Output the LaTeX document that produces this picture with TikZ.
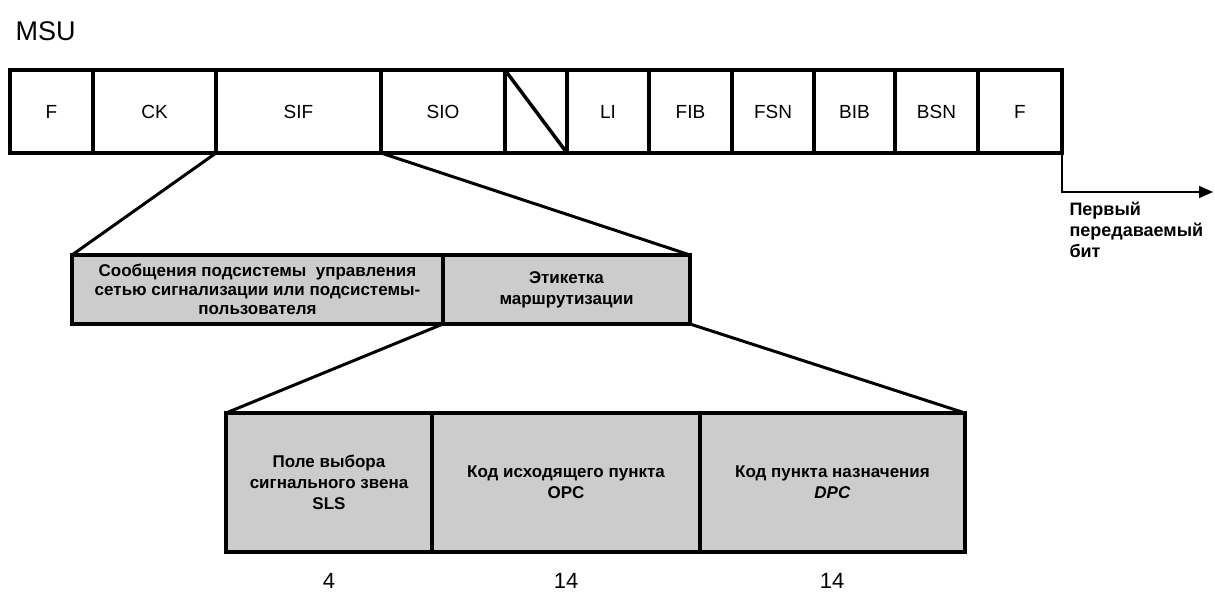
\documentclass[tikz,border=0pt]{standalone}
\usepackage{fontspec}
\setmainfont{Liberation Sans}
\usetikzlibrary{arrows.meta}
\tikzset{
  cell/.style={draw, line width=3.5pt, inner sep=0pt, outer sep=0pt, font=\fontsize{19}{22}\selectfont, anchor=north west},
  graycell/.style={cell, fill=black!20, align=center},
  link/.style={line width=3pt},
  num/.style={font=\fontsize{22}{24}\selectfont},
}
\begin{document}
\begin{tikzpicture}[x=1pt,y=-1pt]
\useasboundingbox (0,0) rectangle (1215,601);
\node[font=\fontsize{27}{30}\selectfont, anchor=west] (msu) at (12,31) {MSU};
% top row
\node[cell, minimum width=83, minimum height=83] (f1) at (10,70) {F};
\node[cell, minimum width=123, minimum height=83] (ck) at (93,70) {CK};
\node[cell, minimum width=165, minimum height=83] (sif) at (216,70) {SIF};
\node[cell, minimum width=124, minimum height=83] (sio) at (381,70) {SIO};
\node[cell, minimum width=62, minimum height=83] (sl) at (505,70) {};
\node[cell, minimum width=82, minimum height=83] (li) at (567,70) {LI};
\node[cell, minimum width=83, minimum height=83] (fib) at (649,70) {FIB};
\node[cell, minimum width=82, minimum height=83] (fsn) at (732,70) {FSN};
\node[cell, minimum width=81, minimum height=83] (bib) at (814,70) {BIB};
\node[cell, minimum width=83, minimum height=83] (bsn) at (895,70) {BSN};
\node[cell, minimum width=84, minimum height=83] (f2) at (978,70) {F};
\draw[line width=3.5pt] (sl.north west) -- (sl.south east);
% arrow
\coordinate (aend) at (1213,192);
\draw[line width=1.5pt, -{Triangle[length=14pt,width=12pt]}] (f2.south east) |- (aend);
\node[font=\bfseries\fontsize{18}{21}\selectfont, align=left, anchor=north west] (first) at (1066,199) {Первый\\передаваемый\\бит};
% middle row
\node[graycell, font=\bfseries\fontsize{17}{19}\selectfont, minimum width=371, minimum height=69] (msg) at (72,255) {Сообщения подсистемы \ управления\\сетью сигнализации или подсистемы-\\пользователя};
\node[graycell, font=\bfseries\fontsize{17}{21}\selectfont, minimum width=247, minimum height=69] (lab) at (443,255) {Этикетка\\маршрутизации};
\draw[link] (sif.south west) -- (msg.north west);
\draw[link] (sif.south east) -- (lab.north east);
% bottom row
\node[graycell, font=\bfseries\fontsize{17}{21}\selectfont, minimum width=206, minimum height=139] (sls) at (226,413) {Поле выбора\\сигнального звена\\SLS};
\node[graycell, font=\bfseries\fontsize{17}{21}\selectfont, minimum width=268, minimum height=139] (opc) at (432,413) {Код исходящего пункта\\OPC};
\node[graycell, font=\bfseries\fontsize{17}{21}\selectfont, minimum width=265, minimum height=139] (dpc) at (700,413) {Код пункта назначения\\\textit{DPC}};
\draw[link] (msg.south east) -- (sls.north west);
\draw[link] (lab.south east) -- (dpc.north east);
\node[num] (n1) at (329,581) {4};
\node[num] (n2) at (566,581) {14};
\node[num] (n3) at (832,581) {14};
\end{tikzpicture}
\end{document}
